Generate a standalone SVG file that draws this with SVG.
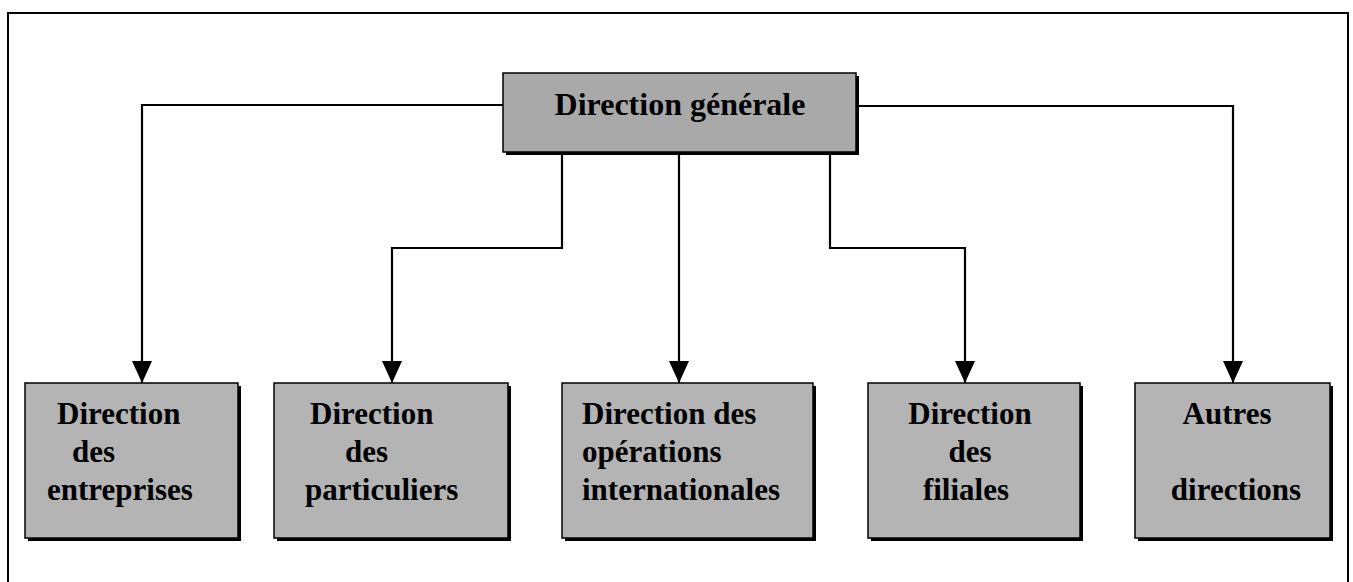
<svg xmlns="http://www.w3.org/2000/svg" width="1353" height="582" viewBox="0 0 1353 582">
<defs>
<style>
.frame{fill:none;stroke:#000;stroke-width:2}
.box{fill:#b4b4b4;stroke:#000;stroke-width:1.5}
.top{fill:#a9a9a9;stroke:#000;stroke-width:1.5}
.shadow{fill:#000}
.conn{fill:none;stroke:#000;stroke-width:2.2}
text{font-weight:bold;fill:#000}
.t{font-size:31px}
.tt{font-size:32px}
</style>
<marker id="arr" markerUnits="userSpaceOnUse" markerWidth="22" markerHeight="20" refX="22" refY="10" orient="auto" viewBox="0 0 22 20">
<path d="M0,0 L22,10 L0,20 Z" fill="#000"/>
</marker>
</defs>
<rect width="1353" height="582" fill="#fff"/>
<path class="frame" d="M8,582 L8,13 L1348,13 L1348,582"/>

<g id="connectors">
<path class="conn" d="M503,105 L142,105 L142,383" marker-end="url(#arr)"/>
<path class="conn" d="M856,106 L1233,106 L1233,383" marker-end="url(#arr)"/>
<path class="conn" d="M562,152 L562,248 L392,248 L392,383" marker-end="url(#arr)"/>
<path class="conn" d="M679,152 L679,383" marker-end="url(#arr)"/>
<path class="conn" d="M830,152 L830,248 L965,248 L965,383" marker-end="url(#arr)"/>
</g>

<g id="n-dg" font-family="'Liberation Serif', 'DejaVu Serif', serif">
<rect class="shadow" x="506" y="76" width="353" height="79"/>
<rect class="top" x="503" y="73" width="353" height="79"/>
<text class="tt" x="680" y="115" text-anchor="middle">Direction générale</text>
</g>

<g id="n-entreprises" font-family="'Liberation Serif', 'DejaVu Serif', serif">
<rect class="shadow" x="28" y="386" width="213" height="155"/>
<rect class="box" x="25" y="383" width="213" height="155"/>
<text class="t" x="57" y="424">Direction</text>
<text class="t" x="72" y="462">des</text>
<text class="t" x="47" y="500">entreprises</text>
</g>

<g id="n-particuliers" font-family="'Liberation Serif', 'DejaVu Serif', serif">
<rect class="shadow" x="277" y="386" width="234" height="155"/>
<rect class="box" x="274" y="383" width="234" height="155"/>
<text class="t" x="310" y="424">Direction</text>
<text class="t" x="345" y="462">des</text>
<text class="t" x="305" y="500">particuliers</text>
</g>

<g id="n-international" font-family="'Liberation Serif', 'DejaVu Serif', serif">
<rect class="shadow" x="565" y="386" width="251" height="155"/>
<rect class="box" x="562" y="383" width="251" height="155"/>
<text class="t" x="582" y="424">Direction des</text>
<text class="t" x="582" y="462">opérations</text>
<text class="t" x="582" y="500">internationales</text>
</g>

<g id="n-filiales" font-family="'Liberation Serif', 'DejaVu Serif', serif">
<rect class="shadow" x="871" y="386" width="212" height="155"/>
<rect class="box" x="868" y="383" width="212" height="155"/>
<text class="t" x="970" y="424" text-anchor="middle">Direction</text>
<text class="t" x="970" y="462" text-anchor="middle">des</text>
<text class="t" x="966" y="500" text-anchor="middle">filiales</text>
</g>

<g id="n-autres" font-family="'Liberation Serif', 'DejaVu Serif', serif">
<rect class="shadow" x="1138" y="386" width="195" height="155"/>
<rect class="box" x="1135" y="383" width="195" height="155"/>
<text class="t" x="1227" y="424" text-anchor="middle">Autres</text>
<text class="t" x="1236" y="500" text-anchor="middle">directions</text>
</g>
</svg>
